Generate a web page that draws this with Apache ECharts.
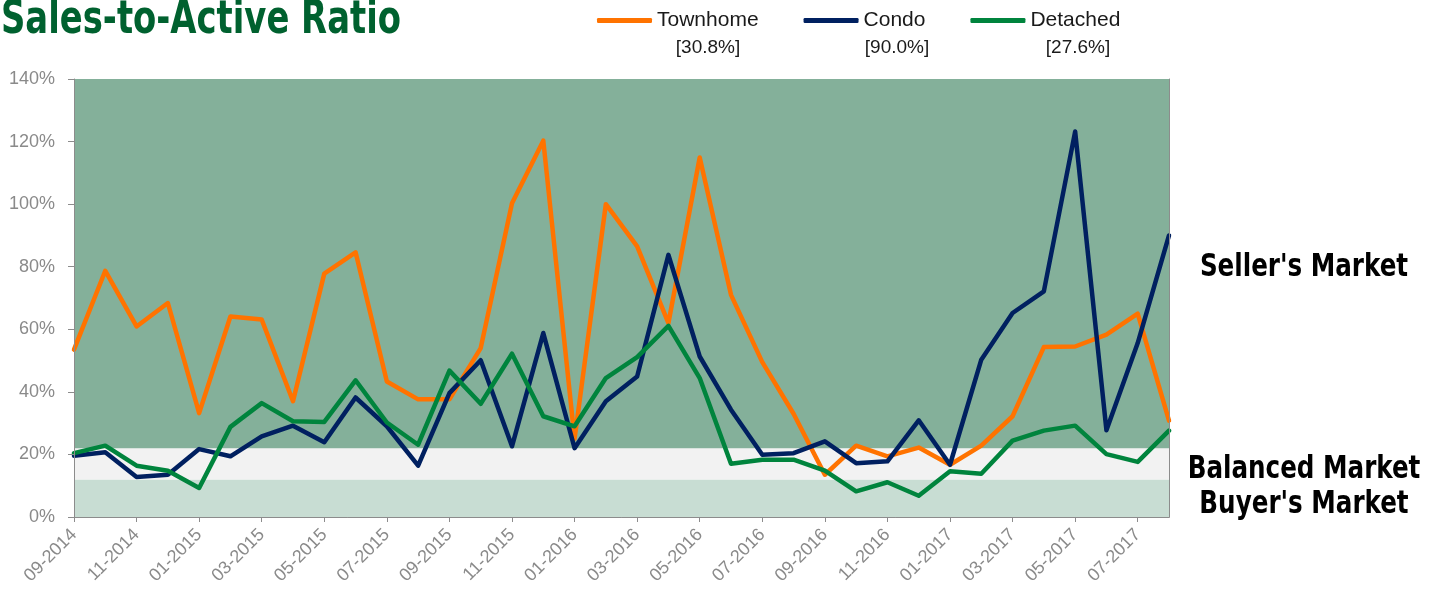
<!DOCTYPE html>
<html>
<head>
<meta charset="utf-8">
<script src="https://cdn.jsdelivr.net/npm/echarts@6/dist/echarts.min.js"></script>
<style>
html,body{margin:0;padding:0;background:#fff;}
#c{width:1439px;height:589px;}
</style>
</head>
<body>
<div id="c"></div>
<script>
var months = ['09-2014','10-2014','11-2014','12-2014','01-2015','02-2015','03-2015','04-2015','05-2015','06-2015','07-2015','08-2015',
  '09-2015','10-2015','11-2015','12-2015','01-2016','02-2016','03-2016','04-2016','05-2016','06-2016','07-2016','08-2016',
  '09-2016','10-2016','11-2016','12-2016','01-2017','02-2017','03-2017','04-2017','05-2017','06-2017','07-2017','08-2017'];
var townhome = [53.5, 78.7, 60.9, 68.4, 33.2, 64.1, 63.1, 37.0, 77.8, 84.6, 43.3, 37.6,
  37.6, 54.0, 100.3, 120.3, 25.0, 100.0, 86.5, 62.0, 114.9, 71.0, 49.5, 33.0,
  13.5, 22.8, 19.4, 22.2, 16.7, 22.8, 32.2, 54.3, 54.5, 58.3, 65.0, 30.8];
var condo = [19.6, 20.7, 12.8, 13.5, 21.7, 19.4, 25.8, 29.2, 23.9, 38.2, 29.0, 16.4,
  39.6, 50.1, 22.6, 58.8, 22.0, 37.0, 44.9, 83.8, 51.3, 34.3, 19.9, 20.4,
  24.2, 17.2, 17.8, 30.9, 16.7, 50.3, 65.2, 72.1, 123.2, 27.7, 55.6, 90.0];
var detached = [20.4, 22.8, 16.4, 14.8, 9.3, 28.8, 36.4, 30.6, 30.4, 43.7, 30.2, 23.1,
  46.8, 36.2, 52.2, 32.2, 29.0, 44.4, 51.1, 61.1, 44.4, 17.0, 18.3, 18.3,
  14.8, 8.2, 11.1, 6.8, 14.6, 13.8, 24.4, 27.6, 29.2, 20.1, 17.6, 27.6];
var seriesNames = ['Townhome', 'Condo', 'Detached'];
var seriesColors = ['#FF7300', '#002060', '#00843D'];
var bandEdges = [0, 12, 22, 140];
var bandNames = ["Buyer's Market", 'Balanced Market', "Seller's Market"];
var bandColors = ['#C8DDD3', '#F2F2F2', '#84B09A'];
var yTicks = [0, 20, 40, 60, 80, 100, 120, 140];

var allData = [townhome, condo, detached];
var chart = echarts.init(document.getElementById('c'));
var grayText = '#8a8a8a';
var axisGray = '#8c8c8c';
var sansFont = "'Liberation Sans', Arial, Helvetica, sans-serif";
var narrowFont = "'Liberation Sans Narrow', 'DejaVu Sans Condensed', 'Liberation Sans', sans-serif";

var markAreaData = [];
for (var b = 0; b < bandNames.length; b++) {
  markAreaData.push([
    {yAxis: bandEdges[b], itemStyle: {color: bandColors[b], opacity: 1}},
    {yAxis: bandEdges[b + 1]}
  ]);
}

var series = seriesNames.map(function (n, i) {
  var s = {
    name: n,
    type: 'line',
    data: allData[i],
    showSymbol: false,
    symbol: 'none',
    lineStyle: {color: seriesColors[i], width: 4.5, cap: 'round', join: 'round'},
    itemStyle: {color: seriesColors[i]},
    z: 3 + i,
    animation: false
  };
  if (i === 0) {
    s.markArea = {silent: true, label: {show: false}, data: markAreaData, z: 1};
  }
  return s;
});

var legendValX = [708, 897, 1078];
var graphics = [
  {type: 'text', x: 1, y: 21, scaleX: 0.8, style: {text: 'Sales-to-Active Ratio', fill: '#00612F',
    font: 'bold 47px ' + narrowFont, textAlign: 'left', textVerticalAlign: 'middle'}, silent: true}
];
seriesNames.forEach(function (n, i) {
  var d = allData[i];
  graphics.push({type: 'text', x: legendValX[i], y: 48, style: {text: '[' + d[d.length - 1].toFixed(1) + '%]',
    fill: '#1a1a1a', font: '19px ' + sansFont, textAlign: 'center', textVerticalAlign: 'middle'}, silent: true});
});
var sideY = [505, 470, 268];
bandNames.forEach(function (n, i) {
  graphics.push({type: 'text', x: 1304, y: sideY[i], scaleX: 0.855, style: {text: n, fill: '#000',
    font: 'bold 32px ' + narrowFont, textAlign: 'center', textVerticalAlign: 'middle'}, silent: true});
});

chart.setOption({
  animation: false,
  backgroundColor: '#fff',
  grid: {left: 74, right: 270, top: 79, bottom: 72, containLabel: false},
  legend: {
    data: seriesNames,
    left: 592, top: 5,
    itemWidth: 55, itemHeight: 5, itemGap: 45,
    icon: 'roundRect',
    textStyle: {fontSize: 21, color: '#1a1a1a', fontFamily: sansFont, padding: [0, 0, 0, 0]},
    selectedMode: false
  },
  xAxis: [{
    type: 'category', data: months, boundaryGap: false, z: 10,
    axisLine: {show: true, lineStyle: {color: axisGray, width: 1}},
    axisTick: {show: true, interval: 1, length: 5, lineStyle: {color: axisGray}},
    axisLabel: {interval: 1, rotate: 45, color: grayText, fontSize: 18, fontFamily: sansFont, margin: 15},
    splitLine: {show: false}
  }, {
    type: 'category', data: months, boundaryGap: false, position: 'top', z: 10,
    axisLine: {show: true, lineStyle: {color: axisGray, width: 1}},
    axisTick: {show: false}, axisLabel: {show: false}, splitLine: {show: false}
  }],
  yAxis: [{
    type: 'value', min: yTicks[0], max: yTicks[yTicks.length - 1], interval: 20, z: 10,
    axisLine: {show: true, lineStyle: {color: axisGray, width: 1}},
    axisTick: {show: true, length: 6, lineStyle: {color: axisGray}},
    axisLabel: {formatter: '{value}%', color: grayText, fontSize: 18, fontFamily: sansFont, margin: 19},
    splitLine: {show: false}
  }, {
    type: 'value', min: yTicks[0], max: yTicks[yTicks.length - 1], interval: 20, position: 'right', z: 10,
    axisLine: {show: true, lineStyle: {color: axisGray, width: 1}},
    axisTick: {show: false}, axisLabel: {show: false}, splitLine: {show: false}
  }],
  series: series,
  graphic: graphics
});
</script>
</body>
</html>
